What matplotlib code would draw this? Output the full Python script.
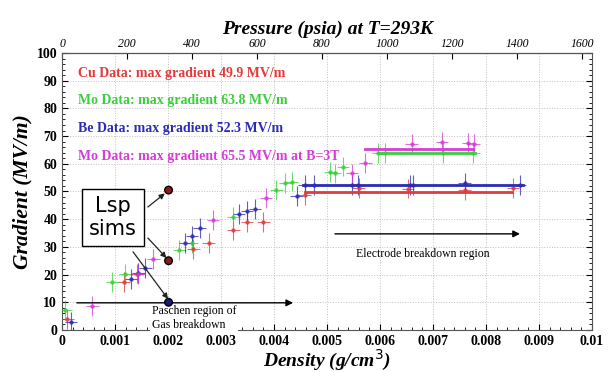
import matplotlib
matplotlib.use('Agg')
import matplotlib.pyplot as plt
from matplotlib.ticker import MultipleLocator

plt.rcParams['font.family'] = ['Liberation Serif', 'DejaVu Serif']

# Cu data (red)
cu_x = [0.0001, 0.00117, 0.00142, 0.00248, 0.00277, 0.00323, 0.00349, 0.0038,
        0.00458, 0.0056, 0.00653, 0.0076, 0.00851]
cu_y = [4, 17.3, 20.3, 29.2, 31.4, 36.1, 39, 39, 48.7, 51.2, 51, 50.5, 51.3]
cu_max = [0.00458, 0.00849, 49.9]

# Mo data (green)
mo_x = [0.00006, 0.00095, 0.00119, 0.00221, 0.00245, 0.00323, 0.00404, 0.00421,
        0.00434, 0.00506, 0.00515, 0.0053, 0.00596, 0.0061, 0.00719, 0.00776]
mo_y = [7.2, 17.3, 20.2, 28.9, 31.4, 40.8, 50.5, 53, 53.6, 57, 56.6, 59, 63.9,
        63.9, 63.9, 63.9]
mo_max = [0.00596, 0.00779, 63.8]

# Be data (blue)
be_x = [0.00017, 0.0013, 0.00144, 0.00157, 0.00232, 0.00245, 0.0026, 0.00334,
        0.00349, 0.00364, 0.00443, 0.00458, 0.00475, 0.00547, 0.00558, 0.00657,
        0.00663, 0.0076, 0.00864]
be_y = [3, 18.4, 20.5, 22.4, 31.4, 34, 36.8, 41.9, 43, 43.7, 48.4, 52.3, 52.3,
        52.3, 52.3, 52.3, 52.3, 53, 52.3]
be_max = [0.00455, 0.0087, 52.3]

# Mo data at B=3T (magenta)
mob_x = [0.00057, 0.00144, 0.00172, 0.00285, 0.00385, 0.00547, 0.00572, 0.0066,
         0.00717, 0.00766, 0.00777]
mob_y = [8.7, 20.2, 25.6, 39.7, 47.7, 56.6, 60.3, 67.1, 67.9, 67.5, 67.1]
mob_max = [0.00572, 0.00775, 65.5]

# Lsp simulation points
lsp_x = [0.00201, 0.00201, 0.00201]
lsp_y = [50.5, 25, 10]
lsp_c = ['#8b1a1a', '#8b1a1a', '#1a1a7a']

legend_texts = ['Cu Data: max gradient 49.9 MV/m',
                'Mo Data: max gradient 63.8 MV/m',
                'Be Data: max gradient 52.3 MV/m',
                'Mo Data: max gradient 65.5 MV/m at B=3T']
legend_y = [92.5, 82.8, 72.8, 62.8]

red = '#e23b3b'
green = '#3ccf3c'
blue = '#2b2bb5'
magenta = '#d73cd7'

fig = plt.figure(figsize=(6.11, 3.72), dpi=100)
ax = fig.add_axes([0.1015, 0.113, 0.8675, 0.7445])

series = [(cu_x, cu_y, cu_max, red), (mo_x, mo_y, mo_max, green),
          (be_x, be_y, be_max, blue), (mob_x, mob_y, mob_max, magenta)]
for xs, ys, mx, c in series:
    ax.errorbar(xs, ys, xerr=0.00012, yerr=3.5, fmt='o', ms=2.2, color=c,
                ecolor=c, elinewidth=0.8, capsize=0, alpha=0.75, zorder=3)
    ax.plot([mx[0], mx[1]], [mx[2], mx[2]], color=c, lw=2, zorder=4)

ax.scatter(lsp_x, lsp_y, s=30, c=lsp_c, edgecolors='black', linewidths=1, zorder=6)

for t, y, c in zip(legend_texts, legend_y, [red, green, blue, magenta]):
    ax.text(0.0003, y, t, color=c, fontsize=10, fontweight='bold', va='center')

# Lsp sims box and arrows
ax.text(0.00096, 40.6, 'Lsp\nsims', fontsize=15, family='DejaVu Sans',
        ha='center', va='center', linespacing=1.2,
        bbox=dict(boxstyle='square,pad=0.35', fc='white', ec='black', lw=1), zorder=7)
arrows = [((0.00162, 44.4), (0.00194, 49.3)),
          ((0.00162, 33.2), (0.00197, 26.0)),
          ((0.00134, 28.2), (0.002, 11.2))]
for s, e in arrows:
    ax.annotate('', xy=e, xytext=s,
                arrowprops=dict(arrowstyle='-|>', color='#222222', lw=0.9,
                                mutation_scale=8, shrinkA=0, shrinkB=0), zorder=6)

# region arrows
ax.annotate('', xy=(0.00436, 9.8), xytext=(0.00028, 9.8),
            arrowprops=dict(arrowstyle='-|>', color='black', lw=1, mutation_scale=10,
                            shrinkA=0, shrinkB=0))
ax.text(0.0017, 4.2, 'Paschen region of\nGas breakdown', fontsize=8.5,
        va='center', ha='left', linespacing=1.2,
        bbox=dict(boxstyle='square,pad=0.15', fc='white', ec='none'), zorder=5)
ax.annotate('', xy=(0.00864, 34.7), xytext=(0.00515, 34.7),
            arrowprops=dict(arrowstyle='-|>', color='black', lw=1, mutation_scale=10,
                            shrinkA=0, shrinkB=0))
ax.text(0.0068, 27.4, 'Electrode breakdown region', fontsize=8.5, ha='center', va='center')

ax.set_xlim(0, 0.01)
ax.set_ylim(0, 100)
ax.xaxis.set_major_locator(MultipleLocator(0.001))
ax.xaxis.set_minor_locator(MultipleLocator(0.0002))
ax.yaxis.set_major_locator(MultipleLocator(10))
ax.yaxis.set_minor_locator(MultipleLocator(2))
ax.xaxis.set_major_formatter(plt.FuncFormatter(lambda v, p: '0' if v == 0 else f'{v:g}'))
ax.tick_params(which='both', direction='in', top=False, right=True)
ax.tick_params(which='major', length=4, labelsize=10)
ax.tick_params(which='minor', length=2)
for lab in ax.get_xticklabels() + ax.get_yticklabels():
    lab.set_fontweight('bold')
ax.grid(True, which='major', ls=':', color='#c0c0c0', lw=0.7)
ax.set_axisbelow(True)
for sp in ax.spines.values():
    sp.set_color('#555555')
    sp.set_linewidth(0.8)

ax.set_xlabel('Density (g/cm$^3$)', fontsize=14, fontweight='bold', style='italic', labelpad=0)
ax.set_ylabel('Gradient (MV/m)', fontsize=15.5, fontweight='bold', style='italic', labelpad=3)

psi_scale = 0.00981 / 1600
top = ax.secondary_xaxis('top', functions=(lambda d: d / psi_scale, lambda p: p * psi_scale))
top.set_xticks(range(0, 1601, 200))
top.tick_params(direction='in', length=4, labelsize=8.5, pad=2)
for lab in top.get_xticklabels():
    lab.set_style('italic')
top.set_xlabel('Pressure (psia) at T=293K', fontsize=14, fontweight='bold', style='italic', labelpad=3)

fig.savefig('out.png', dpi=100)
